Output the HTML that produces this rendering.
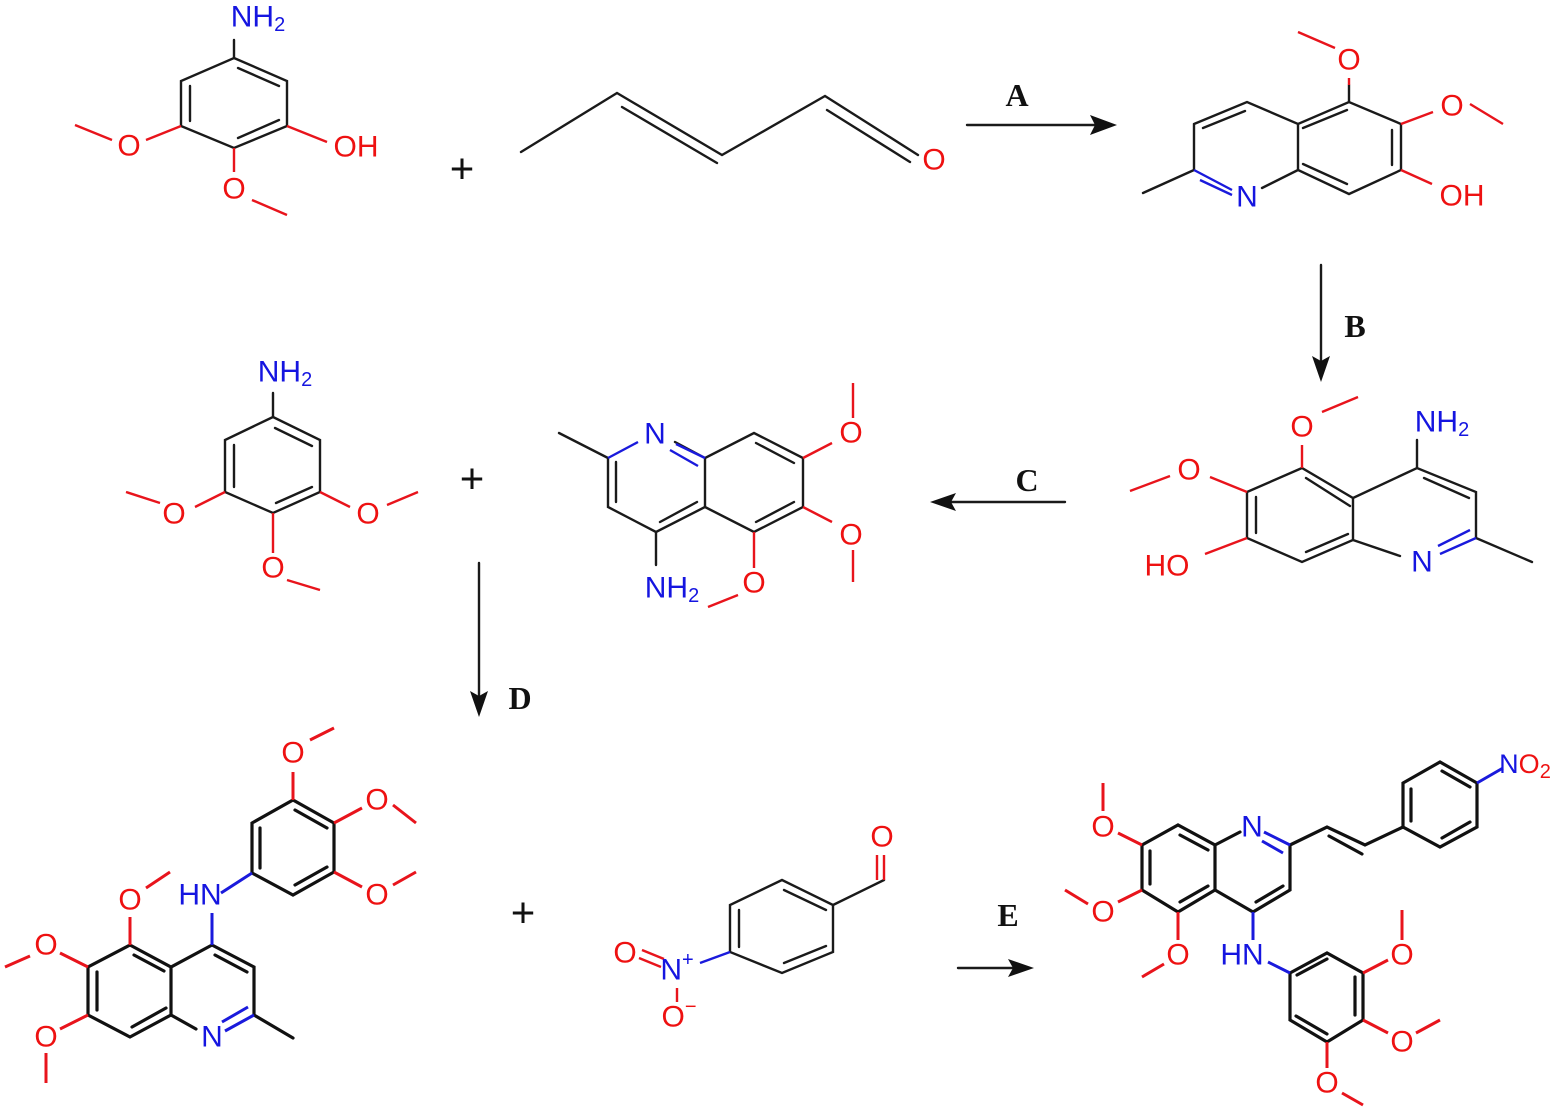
<!DOCTYPE html>
<html><head><meta charset="utf-8"><style>
html,body{margin:0;padding:0;background:#fff;}
svg{display:block;}
.b{stroke:#1a1a1a;stroke-width:2.4;fill:none;stroke-linecap:round}
.bb{stroke:#111;stroke-width:3.2;fill:none;stroke-linecap:round}
.r{stroke:#e8141c;stroke-width:2.4;fill:none}
.rb{stroke:#e8141c;stroke-width:3;fill:none}
.n{stroke:#1a1adc;stroke-width:2.4;fill:none}
.nb{stroke:#1a1adc;stroke-width:3;fill:none}
text{font-family:"Liberation Sans",sans-serif;font-size:30px;dominant-baseline:central;text-anchor:middle}
.O{fill:#ee1111}.N{fill:#1515e0}
.L{font-family:"Liberation Serif",serif;font-weight:bold;font-size:32px;fill:#111}
.p{font-size:42px;fill:#111}
.s{font-size:20px}
</style></head><body>
<svg width="1561" height="1111" viewBox="0 0 1561 1111" xmlns="http://www.w3.org/2000/svg">
<!-- Structure 1 -->
<g class="b"><path d="M234 58L287 81L287 126L234 148L181 126L181 81Z"/>
<path d="M238 68L279 86M190 86L190 121M238 138L279 120"/><path d="M234 58L234 40"/></g>
<path class="r" d="M287 126L327 142M181 126L146 140M112 140L75 125M234 148L234 172M252 200L287 215"/>
<text x="258" y="17" class="N">NH<tspan class="s" dy="8">2</tspan></text>
<text x="356" y="147" class="O">OH</text>
<text x="129" y="146" class="O">O</text>
<text x="234" y="189" class="O">O</text>
<text x="462" y="168" class="p">+</text>
<!-- crotonaldehyde -->
<g class="b"><path d="M521 152L617 93L722 155L825 96L918 155"/><path d="M622 107L717 163M827 110L910 162"/></g>
<text x="934" y="160" class="O">O</text>
<!-- arrow A -->
<path class="b" d="M967 125L1095 125"/><path d="M1117 125L1090 115L1095 125L1090 135Z" fill="#111"/>
<text x="1017" y="95" class="L">A</text>
<!-- Structure 2 -->
<g class="b"><path d="M1194 124L1247 102L1298 124L1349 102L1401 124L1401 170L1349 194L1298 170L1298 124M1194 124L1194 170M1298 170L1262 188M1194 170L1143 193"/>
<path d="M1203 128L1245 111M1303 128L1347 110M1392 130L1392 165M1303 164L1347 184"/><path d="M1349 102L1349 85"/></g>
<path class="n" d="M1194 170L1232 190M1200 180L1232 195"/>
<path class="r" d="M1349 85L1349 78M1401 124L1433 112M1470 104L1503 124M1401 170L1432 184M1335 48L1298 32"/>
<text x="1247" y="197" class="N">N</text>
<text x="1349" y="60" class="O">O</text>
<text x="1452" y="106" class="O">O</text>
<text x="1462" y="196" class="O">OH</text>
<!-- arrow B -->
<path class="b" d="M1321 265L1321 360"/><path d="M1321 382L1312 356L1321 361L1330 356Z" fill="#111"/>
<text x="1355" y="326" class="L">B</text>
<!-- Structure 3 -->
<g class="b"><path d="M1247 492L1302 468L1353 498L1417 468L1476 492L1476 538M1353 498L1353 540L1302 562L1247 538L1247 492M1353 540L1400 556M1476 538L1532 562"/>
<path d="M1306 478L1350 506M1424 478L1469 498M1256 497L1256 533M1306 552L1348 534"/><path d="M1417 468L1417 440"/></g>
<path class="n" d="M1476 538L1440 554M1470 530L1438 546"/>
<path class="r" d="M1302 468L1302 445M1322 412L1358 397M1247 492L1210 477M1170 476L1130 491M1247 538L1205 554"/>
<text x="1302" y="427" class="O">O</text>
<text x="1189" y="470" class="O">O</text>
<text x="1167" y="566" class="O">HO</text>
<text x="1422" y="562" class="N">N</text>
<text x="1442" y="422" class="N">NH<tspan class="s" dy="8">2</tspan></text>
<!-- arrow C -->
<path class="b" d="M1065 502L950 502"/><path d="M930 502L956 493L951 502L956 511Z" fill="#111"/>
<text x="1027" y="480" class="L">C</text>
<!-- Structure 4 -->
<g class="b"><path d="M273 417L320 440L320 492L273 513L225 492L225 440Z"/>
<path d="M275 428L312 446M234 445L234 487M276 503L312 487"/><path d="M273 417L273 393"/></g>
<path class="r" d="M273 513L273 553M225 492L195 507M160 503L126 492M320 492L350 507M387 505L418 492M287 580L320 590"/>
<text x="285" y="372" class="N">NH<tspan class="s" dy="8">2</tspan></text>
<text x="174" y="514" class="O">O</text>
<text x="368" y="514" class="O">O</text>
<text x="273" y="568" class="O">O</text>
<text x="472" y="478" class="p">+</text>
<!-- Structure 5 -->
<g class="b"><path d="M608 458L608 507L656 532L705 507L705 458L754 433L803 458L803 507L754 532L705 507M608 458L559 433M705 458L675 442"/>
<path d="M616 462L616 502M660 522L697 502M756 443L794 463M794 502L756 522"/><path d="M656 532L656 565"/></g>
<path class="n" d="M608 458L638 442M705 458L676 444M698 466L670 450"/>
<path class="r" d="M754 532L754 568M803 458L832 443M853 418L853 383M803 507L832 522M853 550L853 582M738 595L708 607"/>
<text x="655" y="434" class="N">N</text>
<text x="672" y="588" class="N">NH<tspan class="s" dy="8">2</tspan></text>
<text x="754" y="583" class="O">O</text>
<text x="851" y="433" class="O">O</text>
<text x="851" y="535" class="O">O</text>
<!-- arrow D -->
<path class="b" d="M479 563L479 695"/><path d="M479 717L470 691L479 696L488 691Z" fill="#111"/>
<text x="520" y="698" class="L">D</text>
<!-- Structure 6 -->
<g class="bb"><path d="M212 945L254 967L254 1015M171 1015L130 1037L88 1015L88 967L130 945L171 967L212 945M171 967L171 1015L196 1029M254 1015L293 1038"/>
<path d="M215 955L247 972M166 1008L132 1027M134 955L164 971M97 972L97 1010"/>
<path d="M252 873L252 823L293 800L334 823L334 872L293 895Z"/><path d="M260 828L260 868M295 810L327 828M327 867L295 885"/></g>
<path class="nb" d="M212 945L212 913M221 893L252 873M254 1015L225 1031M248 1007L222 1022"/>
<path class="rb" d="M293 800L293 772M310 740L334 728M334 823L362 808M393 805L416 823M334 872L362 887M393 885L416 872M130 945L130 917M146 888L170 872M88 967L60 953M30 956L5 967M88 1015L60 1029M46 1053L46 1083"/>
<text x="200" y="895" class="N">HN</text>
<text x="212" y="1037" class="N">N</text>
<text x="293" y="753" class="O">O</text>
<text x="377" y="800" class="O">O</text>
<text x="377" y="895" class="O">O</text>
<text x="130" y="900" class="O">O</text>
<text x="46" y="945" class="O">O</text>
<text x="46" y="1037" class="O">O</text>
<text x="523" y="912" class="p">+</text>
<!-- nitrobenzaldehyde -->
<g class="b"><path d="M833 905L782 880L730 905L730 952L782 973L833 952Z"/>
<path d="M784 890L826 910M739 910L739 947M784 963L826 946"/><path d="M833 905L884 880"/></g>
<path class="r" d="M884 880L884 855M877 880L877 855M642 950L664 959M639 958L661 967M677 988L677 1002"/>
<path class="n" d="M730 952L700 963"/>
<text x="882" y="837" class="O">O</text>
<text x="677" y="970" class="N">N<tspan class="s" dy="-10">+</tspan></text>
<text x="625" y="953" class="O">O</text>
<text x="679" y="1017" class="O">O<tspan class="s" dy="-10">−</tspan></text>
<!-- arrow E -->
<path class="b" d="M958 968L1012 968"/><path d="M1034 968L1008 959L1013 968L1008 977Z" fill="#111"/>
<text x="1008" y="915" class="L">E</text>
<!-- Structure 7 -->
<g class="bb"><path d="M1142 845L1178 825L1215 845L1215 890L1253 912L1290 890L1290 845M1215 890L1178 912L1142 890L1142 845M1215 845L1240 832M1290 845L1327 827L1365 845L1403 827"/>
<path d="M1180 835L1208 850M1150 851L1150 884M1180 902L1208 886M1256 902L1283 886M1329 836L1362 854"/>
<path d="M1290 973L1327 953L1363 973L1363 1020L1327 1042L1290 1020Z"/><path d="M1297 975L1327 959M1355 977L1355 1015M1296 1016L1327 1034"/>
<path d="M1403 827L1403 783L1440 762L1477 783L1477 827L1440 847Z"/><path d="M1411 789L1411 821M1442 771L1470 787M1442 838L1470 822"/></g>
<path class="nb" d="M1290 845L1264 832M1283 853L1262 841M1253 912L1253 940M1268 962L1290 973M1477 783L1503 768"/>
<path class="rb" d="M1142 845L1118 833M1103 811L1103 783M1142 890L1118 902M1088 904L1065 890M1178 912L1178 940M1164 964L1142 977M1363 973L1388 960M1402 940L1402 910M1363 1020L1388 1033M1416 1033L1440 1020M1327 1042L1327 1068M1342 1093L1363 1105"/>
<text x="1252" y="827" class="N">N</text>
<text x="1242" y="955" class="N">HN</text>
<text x="1103" y="827" class="O">O</text>
<text x="1103" y="912" class="O">O</text>
<text x="1178" y="955" class="O">O</text>
<text x="1402" y="955" class="O">O</text>
<text x="1402" y="1042" class="O">O</text>
<text x="1327" y="1083" class="O">O</text>
<text x="1525" y="764" class="N" style="font-size:27px">N<tspan class="O">O</tspan><tspan class="O s" dy="8">2</tspan></text>
</svg>
</body></html>
